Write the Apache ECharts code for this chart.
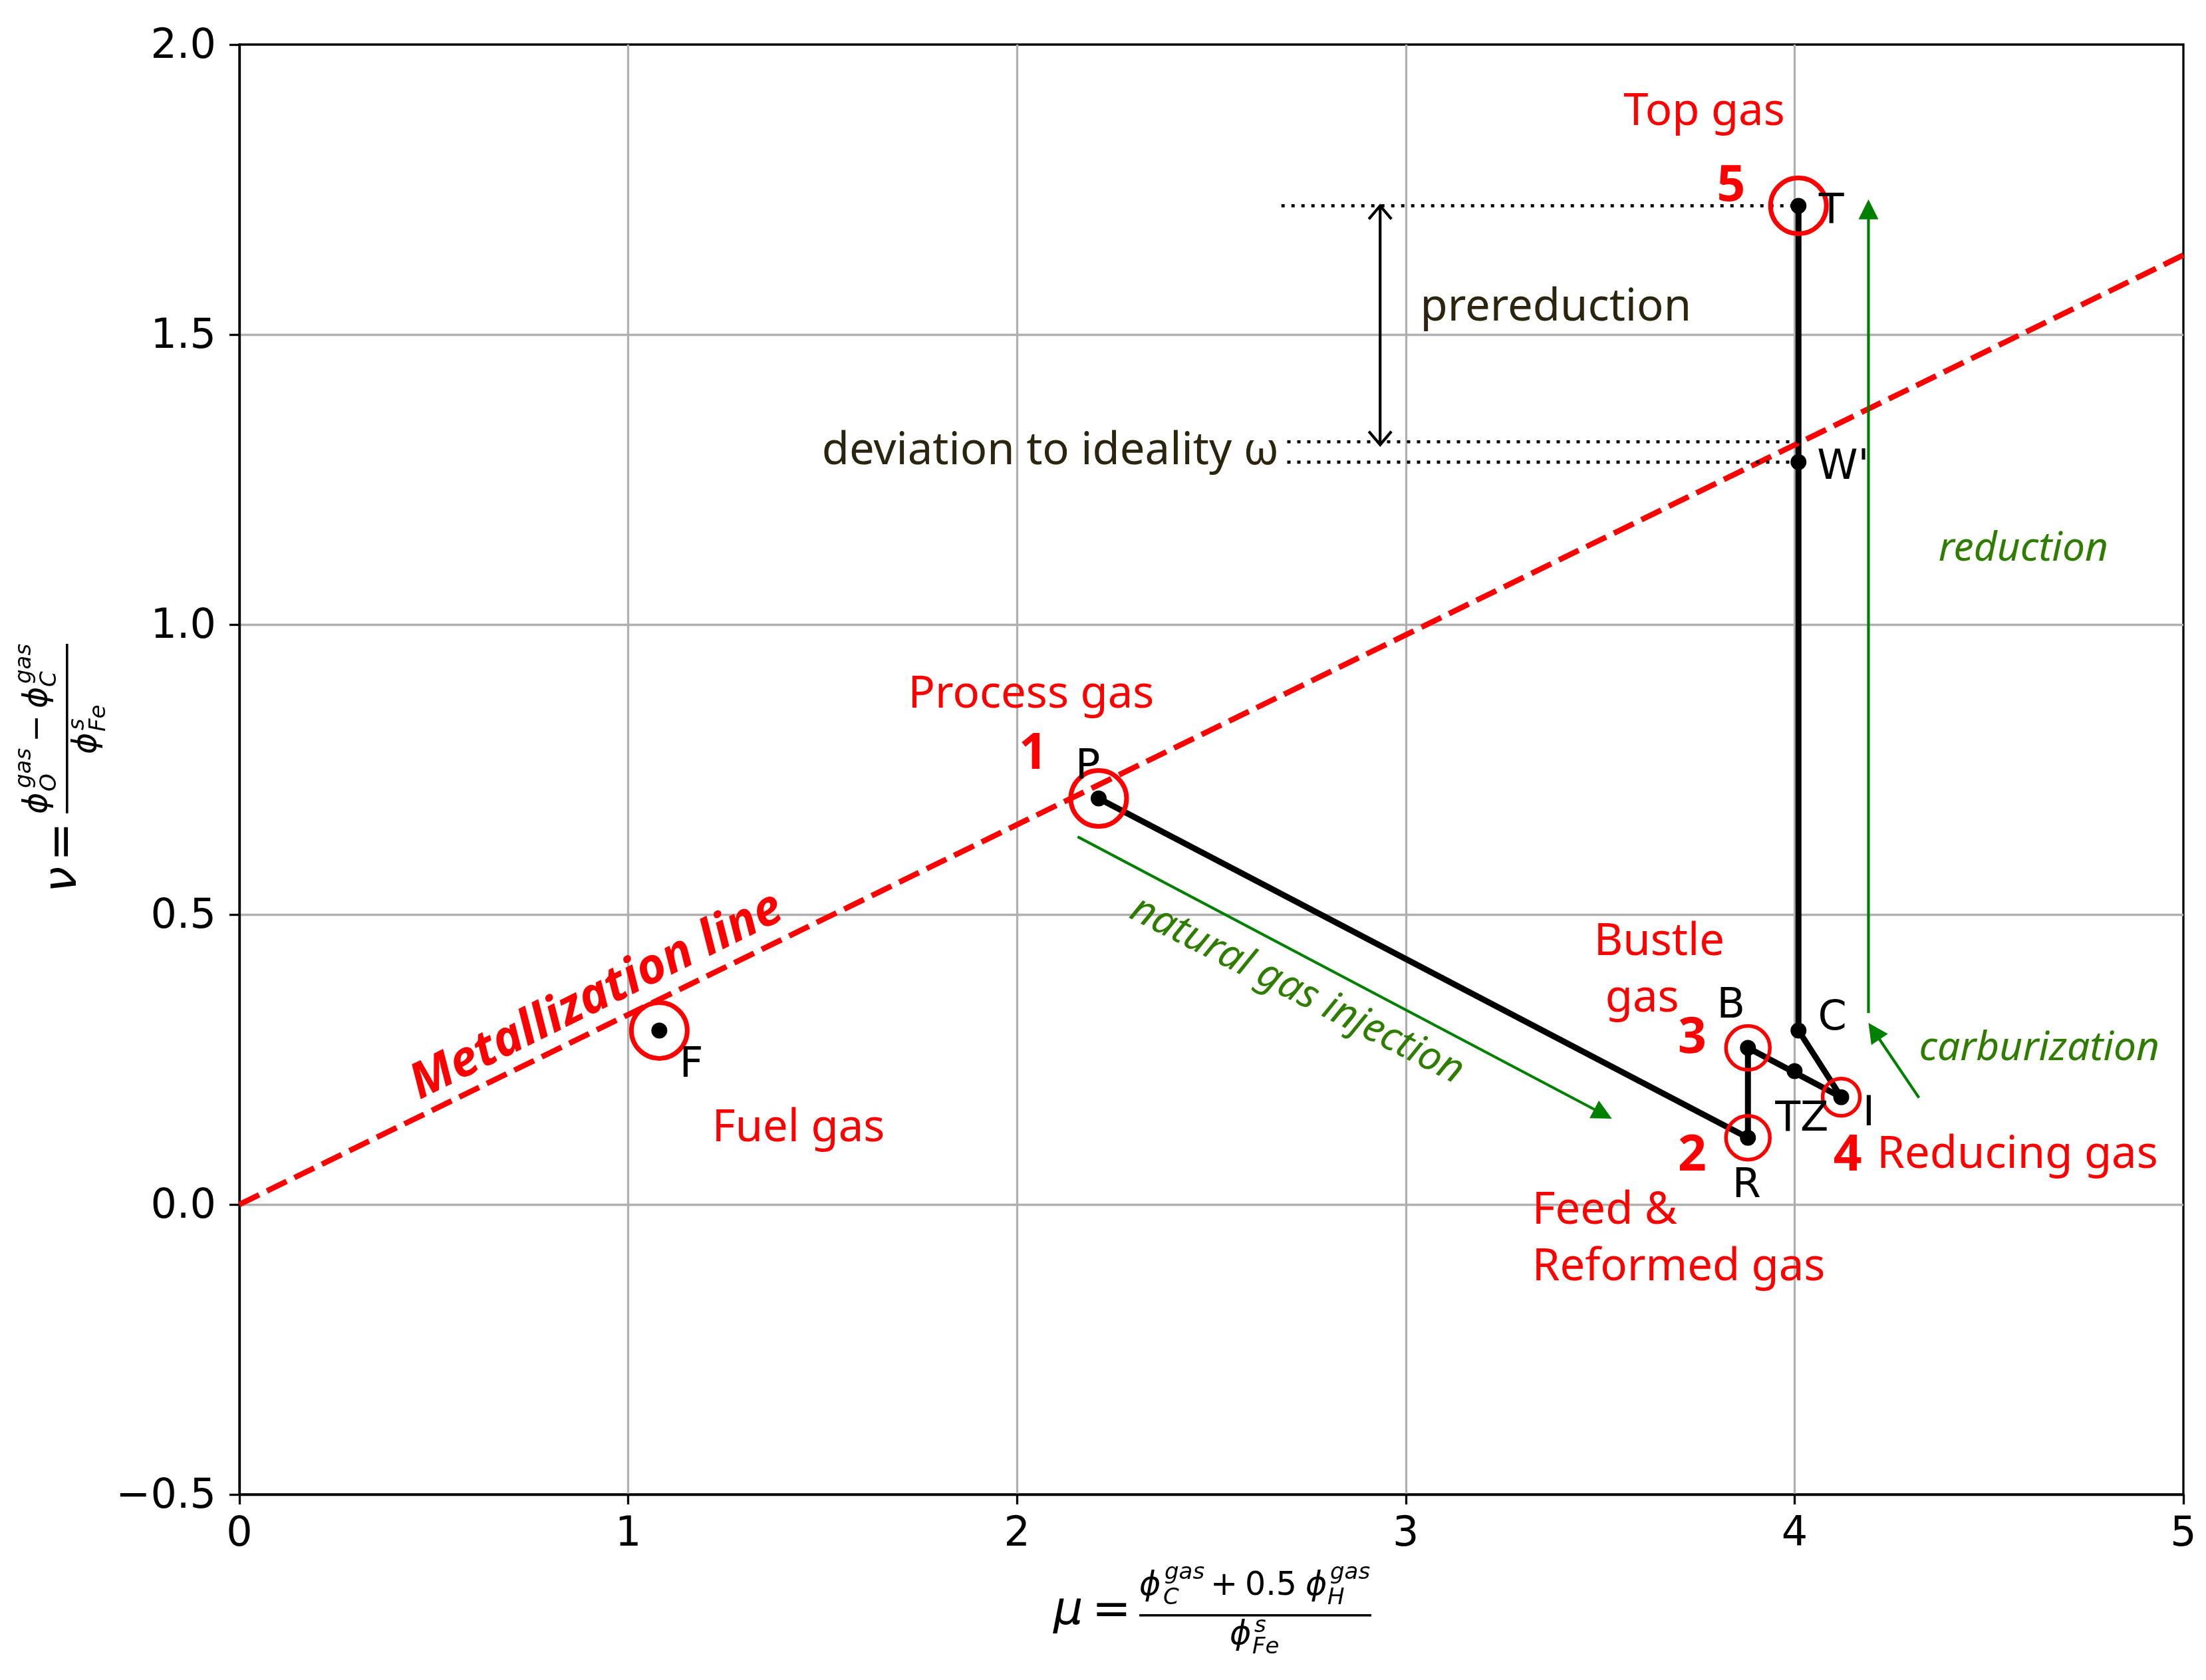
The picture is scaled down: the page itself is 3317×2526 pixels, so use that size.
<!DOCTYPE html>
<html>
<head>
<meta charset="utf-8">
<style>
	html, body { margin: 0; padding: 0; background: #fff; }
	#echart { width: 3317px; height: 2526px; }
</style>
<script src="https://cdn.jsdelivr.net/npm/echarts@6/dist/echarts.min.js"></script>
</head>
<body>
<div id="echart"></div>
<script>
// gas path P -> R -> B -> I -> C -> T
let pathX = [2.21, 3.88, 3.88, 4.12, 4.01, 4.01];
let pathY = [0.70, 0.115, 0.27, 0.185, 0.30, 1.722];

// all black dots: P R B I C T W' TZ F
let dotX = [2.21, 3.88, 3.88, 4.12, 4.01, 4.01, 4.01, 4.00, 1.08];
let dotY = [0.70, 0.115, 0.27, 0.185, 0.30, 1.722, 1.28, 0.23, 0.30];

let metalX = [0, 5];
let metalY = [0, 1.637];

let bigRingX = [2.21, 4.01, 1.08];
let bigRingY = [0.70, 1.722, 0.30];
let midRingX = [3.88, 3.88];
let midRingY = [0.115, 0.27];
let smallRingX = [4.12];
let smallRingY = [0.185];

let dotted1X = [2.68, 4.01];
let dotted1Y = [1.722, 1.722];
let dotted2X = [2.695, 4.01];
let dotted2Y = [1.315, 1.315];
let dotted3X = [2.695, 4.01];
let dotted3Y = [1.28, 1.28];

let arrowX0 = [4.19, 4.32, 2.156, 2.934];
let arrowY0 = [0.33, 0.184, 0.634, 1.31];
let arrowX1 = [4.19, 4.19, 3.53, 2.934];
let arrowY1 = [1.733, 0.313, 0.148, 1.722];
let arrowKind = ['green', 'green', 'green', 'both'];

let annoText = ['Top gas', '5', 'T', 'prereduction', 'deviation to ideality ω', "W'", 'reduction', 'Process gas', '1', 'P',
	'Metallization line', 'F', 'Fuel gas', 'natural gas injection', 'Bustle', 'gas', 'B', 'C', '3', 'carburization',
	'TZ', 'I', '2', '4', 'Reducing gas', 'R', 'Feed &', 'Reformed gas'];
let annoX = [3.56, 3.80, 4.062, 3.037, 1.498, 4.058, 4.37, 1.72, 2.005, 2.15,
	0.919, 1.132, 1.216, 2.72, 3.484, 3.513, 3.80, 4.06, 3.70, 4.32,
	3.95, 4.175, 3.70, 4.10, 4.212, 3.84, 3.325, 3.325];
let annoY = [1.888, 1.76, 1.716, 1.55, 1.303, 1.274, 1.133, 0.883, 0.78, 0.758,
	0.359, 0.243, 0.136, 0.369, 0.456, 0.359, 0.345, 0.325, 0.291, 0.272,
	0.15, 0.16, 0.087, 0.087, 0.09, 0.036, -0.007, -0.104];
let annoKind = ['gas', 'num', 'pt', 'note', 'note', 'pt', 'green', 'gas', 'num', 'pt',
	'metal', 'pt', 'gas', 'greenRot', 'gas', 'gas', 'pt', 'pt', 'num', 'green',
	'pt', 'pt', 'num', 'num', 'gas', 'pt', 'gas', 'gas'];

let xTicks = {0: '0', 1: '1', 2: '2', 3: '3', 4: '4', 5: '5'};
let yTicks = {'-0.5': '\u22120.5', '0': '0.0', '0.5': '0.5', '1': '1.0', '1.5': '1.5', '2': '2.0'};

let annoStyles = {
	gas: { font: '67px "Noto Sans"', fill: '#ff0000', align: 'left', rotate: 0, drop: 4 },
	num: { font: 'bold 75px "Noto Sans"', fill: '#ff0000', align: 'left', rotate: 0, drop: 4 },
	pt: { font: '62px "DejaVu Sans"', fill: '#000000', align: 'left', rotate: 0, drop: 4 },
	note: { font: '67px "Noto Sans"', fill: '#2b2510', align: 'left', rotate: 0, drop: 4 },
	green: { font: 'italic 60.5px "Noto Sans"', fill: '#2e7d00', align: 'left', rotate: 0, drop: 3 },
	greenRot: { font: 'italic 60.5px "Noto Sans"', fill: '#2e7d00', align: 'center', rotate: -27, drop: 0 },
	metal: { font: 'italic bold 74px "Noto Sans"', fill: '#ff0000', align: 'center', rotate: 26.4, drop: 0 }
};

function zip(xs, ys) {
	return xs.map((x, i) => [x, ys[i]]);
}

function renderAnno(params, api) {
	let i = params.dataIndex;
	let pos = api.coord([annoX[i], annoY[i]]);
	let st = annoStyles[annoKind[i]];
	return {
		type: 'text',
		x: pos[0],
		y: pos[1] + st.drop,
		rotation: st.rotate * Math.PI / 180,
		style: { text: annoText[i], font: st.font, fill: st.fill, align: st.align, verticalAlign: 'middle' }
	};
}

function arrowHead(tip, ang, len, half) {
	let bx = tip[0] - Math.cos(ang) * len;
	let by = tip[1] - Math.sin(ang) * len;
	return [
		[bx - Math.sin(ang) * half, by + Math.cos(ang) * half],
		tip,
		[bx + Math.sin(ang) * half, by - Math.cos(ang) * half]
	];
}

function renderArrow(params, api) {
	let i = params.dataIndex;
	let a = api.coord([arrowX0[i], arrowY0[i]]);
	let b = api.coord([arrowX1[i], arrowY1[i]]);
	let ang = Math.atan2(b[1] - a[1], b[0] - a[0]);
	let kids = [];
	if (arrowKind[i] == 'green') {
		let stop = [b[0] - Math.cos(ang) * 24, b[1] - Math.sin(ang) * 24];
		kids.push({ type: 'line', shape: { x1: a[0], y1: a[1], x2: stop[0], y2: stop[1] }, style: { stroke: '#008000', lineWidth: 4.2 } });
		kids.push({ type: 'polygon', shape: { points: arrowHead(b, ang, 30, 15) }, style: { fill: '#008000' } });
	} else {
		kids.push({ type: 'line', shape: { x1: a[0], y1: a[1], x2: b[0], y2: b[1] }, style: { stroke: '#000', lineWidth: 4.2 } });
		kids.push({ type: 'polyline', shape: { points: arrowHead(b, ang, 20, 17) }, style: { stroke: '#000', lineWidth: 4.2, fill: 'none' } });
		kids.push({ type: 'polyline', shape: { points: arrowHead(a, ang + Math.PI, 20, 17) }, style: { stroke: '#000', lineWidth: 4.2, fill: 'none' } });
	}
	return { type: 'group', children: kids };
}

// one formula piece: text, offset along the text, baseline offset, size, italic or not
function piece(text, u, v, size, italic) {
	return {
		type: 'text',
		x: u,
		y: v - size * 0.3,
		style: {
			text: text,
			font: (italic ? 'italic ' : '') + size + 'px "DejaVu Sans"',
			fill: '#000',
			align: 'left',
			verticalAlign: 'middle'
		}
	};
}

function bar(u0, u1) {
	return { type: 'rect', shape: { x: u0, y: -18, width: u1 - u0, height: 3.6 }, style: { fill: '#000' } };
}

function xFormula() {
	return {
		type: 'group',
		x: 1584,
		y: 2445,
		children: [
			piece('μ', 0, 0, 70, true),
			piece('=', 58, 0, 70, false),
			bar(129, 478),
			piece('ϕ', 129, -45, 49, true),
			piece('gas', 167, -70, 34, true),
			piece('C', 165, -32, 34, true),
			piece('+', 236, -45, 49, false),
			piece('0.5', 288, -45, 49, false),
			piece('ϕ', 379, -45, 49, true),
			piece('gas', 416, -70, 34, true),
			piece('H', 412, -32, 34, true),
			piece('ϕ', 265, 29, 49, true),
			piece('s', 302, 10, 34, true),
			piece('Fe', 299, 42, 34, true)
		]
	};
}

function yFormula() {
	return {
		type: 'group',
		x: 117,
		y: 1342,
		rotation: Math.PI / 2,
		children: [
			piece('ν', 0, 0, 70, true),
			piece('=', 47, 0, 70, false),
			bar(119, 374),
			piece('ϕ', 118, -45, 49, true),
			piece('gas', 157, -70, 34, true),
			piece('O', 152, -32, 34, true),
			piece('\u2212', 226, -45, 49, false),
			piece('ϕ', 277, -45, 49, true),
			piece('gas', 314, -70, 34, true),
			piece('C', 309, -32, 34, true),
			piece('ϕ', 208, 29, 49, true),
			piece('s', 244, 10, 34, true),
			piece('Fe', 242, 42, 34, true)
		]
	};
}

function lineSeries(xs, ys, color, width, type, z) {
	return {
		type: 'line',
		data: zip(xs, ys),
		showSymbol: false,
		symbol: 'none',
		z: z,
		lineStyle: { color: color, width: width, type: type, cap: 'butt' }
	};
}

function ringSeries(xs, ys, size, stroke) {
	return {
		type: 'scatter',
		data: zip(xs, ys),
		symbol: 'circle',
		symbolSize: size,
		z: 6,
		itemStyle: { color: 'none', borderColor: '#ff0000', borderWidth: stroke, opacity: 1 }
	};
}

function drawChart() {
	let myChart = echarts.init(document.getElementById('echart'));
	let axisFont = { fontFamily: 'DejaVu Sans', fontSize: 62, color: '#000' };
	let gridLine = { show: true, showMinLine: false, showMaxLine: false, lineStyle: { color: '#b0b0b0', width: 3.3 } };
	let option = {
		animation: false,
		backgroundColor: '#fff',
		grid: { left: 360, right: 34, top: 67, bottom: 279, show: true, borderColor: '#000', borderWidth: 3.3, backgroundColor: 'transparent' },
		xAxis: {
			type: 'value',
			min: 0,
			max: 5,
			interval: 1,
			axisLine: { onZero: false, lineStyle: { color: '#000', width: 3.3 } },
			axisTick: { length: 15, lineStyle: { color: '#000', width: 3.3 } },
			axisLabel: Object.assign({ margin: 30, formatter: v => xTicks[v] }, axisFont),
			splitLine: gridLine
		},
		yAxis: {
			type: 'value',
			min: -0.5,
			max: 2,
			interval: 0.5,
			axisLine: { onZero: false, lineStyle: { color: '#000', width: 3.3 } },
			axisTick: { length: 15, lineStyle: { color: '#000', width: 3.3 } },
			axisLabel: Object.assign({
				margin: 35,
				formatter: v => '{t|' + yTicks[String(v)] + '}',
				rich: { t: Object.assign({ padding: [8, 0, 0, 0] }, axisFont) }
			}, axisFont),
			splitLine: gridLine
		},
		graphic: [xFormula(), yFormula()],
		series: [
			lineSeries(pathX, pathY, '#000', 9, 'solid', 3),
			lineSeries(metalX, metalY, '#ff0000', 8.3, [33, 13], 4),
			lineSeries(dotted1X, dotted1Y, '#000', 4.6, [5, 10], 4),
			lineSeries(dotted2X, dotted2Y, '#000', 4.6, [5, 10], 4),
			lineSeries(dotted3X, dotted3Y, '#000', 4.6, [5, 10], 4),
			{
				type: 'scatter',
				data: zip(dotX, dotY),
				symbol: 'circle',
				symbolSize: 24,
				z: 5,
				itemStyle: { color: '#000', opacity: 1 }
			},
			ringSeries(bigRingX, bigRingY, 84, 7),
			ringSeries(midRingX, midRingY, 66, 5.5),
			ringSeries(smallRingX, smallRingY, 56, 5.5),
			{
				type: 'custom',
				coordinateSystem: 'cartesian2d',
				data: zip(arrowX0, arrowY0),
				renderItem: renderArrow,
				z: 5
			},
			{
				type: 'custom',
				coordinateSystem: 'cartesian2d',
				data: zip(annoX, annoY),
				renderItem: renderAnno,
				z: 7
			}
		]
	};
	myChart.setOption(option);
}

drawChart();
</script>
</body>
</html>
